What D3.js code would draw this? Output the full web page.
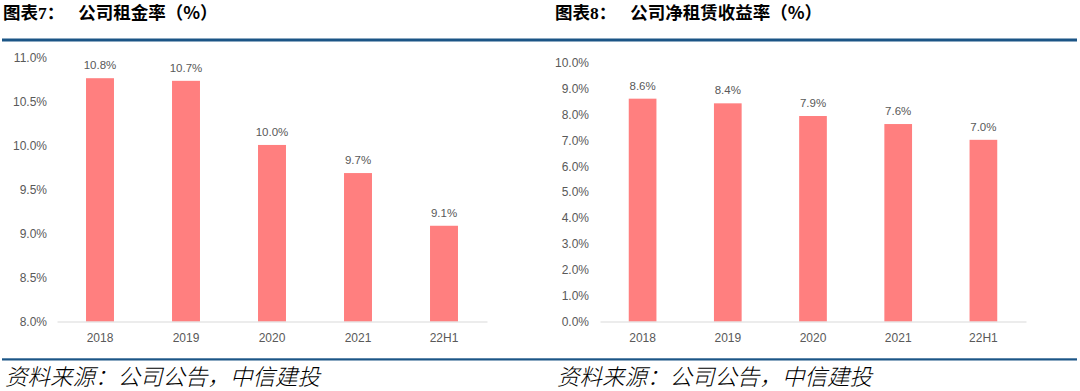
<!DOCTYPE html>
<html>
<head>
<meta charset="utf-8">
<script src="https://cdn.jsdelivr.net/npm/d3@7"></script>
<style>
  body { margin: 0; background: #fff; }
  svg { display: block; }
</style>
</head>
<body>
<script>
// chart data
const years = ["2018", "2019", "2020", "2021", "22H1"];
const rentRate = [10.77, 10.74, 10.01, 9.69, 9.09];
const netYield = [8.61, 8.43, 7.94, 7.63, 7.02];
const rentTicks = [8.0, 8.5, 9.0, 9.5, 10.0, 10.5, 11.0];
const yieldTicks = [0, 1, 2, 3, 4, 5, 6, 7, 8, 9, 10];
const sourceText = "资料来源：公司公告，中信建投";

const W = 1080, H = 391;
const barColor = "#ff7f7f";
const textGray = "#595959";
const ruleBlue = "#1b5586";

let svg = d3.select("body").append("svg")
    .attr("width", W)
    .attr("height", H);

// blue rules across the page
svg.append("rect").attr("x", 2).attr("y", 38.5).attr("width", 1075).attr("height", 3).attr("fill", ruleBlue);
svg.append("rect").attr("x", 2).attr("y", 358.3).attr("width", 1075).attr("height", 2.2).attr("fill", ruleBlue);

let drawPanel = function (o) {
    // title
    let t = svg.append("text")
        .attr("x", o.titleX)
        .attr("y", 19)
        .attr("font-family", "'Noto Sans CJK SC', sans-serif")
        .attr("font-weight", "bold")
        .attr("font-size", 17.5)
        .attr("fill", "#000");
    t.append("tspan").text("图表");
    t.append("tspan").attr("font-family", "'Liberation Serif', serif").text(o.num);
    t.append("tspan").text("：");
    t.append("tspan").attr("dx", 14).text(o.title);

    // source
    svg.append("text")
        .attr("x", o.srcX)
        .attr("y", 385)
        .attr("font-family", "'Noto Sans CJK SC', sans-serif")
        .attr("font-style", "italic")
        .attr("font-weight", 300)
        .attr("font-size", 22.5)
        .attr("fill", "#000")
        .text(sourceText);

    let x = d3.scaleBand()
        .domain(years)
        .range([o.x0, o.x1])
        .paddingInner(0.675)
        .paddingOuter(0.3375);
    let y = d3.scaleLinear()
        .domain(o.domain)
        .range([321.5, o.yTop]);

    let g = svg.append("g");

    // y axis labels
    let ya = g.append("g")
        .attr("transform", "translate(" + o.x0 + ",0)")
        .call(d3.axisLeft(y).tickValues(o.ticks).tickSize(0).tickPadding(o.yPad)
            .tickFormat(function (d) { return d3.format(".1f")(d) + "%"; }));
    ya.select(".domain").remove();
    ya.selectAll("text")
        .attr("font-family", "'Liberation Sans', Arial, sans-serif")
        .attr("font-size", 12)
        .attr("fill", textGray);

    // bars
    g.selectAll(".bar")
        .data(o.values)
        .enter().append("rect")
        .attr("class", "bar")
        .attr("x", function (d, i) { return x(years[i]); })
        .attr("width", x.bandwidth())
        .attr("y", function (d) { return y(d); })
        .attr("height", function (d) { return y(o.domain[0]) - y(d); })
        .attr("fill", barColor);

    // value labels
    g.selectAll(".lbl")
        .data(o.values)
        .enter().append("text")
        .attr("class", "lbl")
        .attr("x", function (d, i) { return x(years[i]) + x.bandwidth() / 2; })
        .attr("y", function (d) { return y(d) - 9; })
        .attr("text-anchor", "middle")
        .attr("font-family", "'Liberation Sans', Arial, sans-serif")
        .attr("font-size", 11.5)
        .attr("fill", textGray)
        .text(function (d) { return d3.format(".1f")(d) + "%"; });

    // x axis
    let xa = g.append("g")
        .attr("transform", "translate(0,321.5)")
        .call(d3.axisBottom(x).tickSize(0).tickSizeOuter(0).tickPadding(11.5));
    xa.select(".domain").attr("stroke", "#d9d9d9").attr("stroke-width", 1);
    xa.selectAll("text")
        .attr("font-family", "'Liberation Sans', Arial, sans-serif")
        .attr("font-size", 12)
        .attr("fill", textGray);
};

drawPanel({
    num: "7", title: "公司租金率（%）", titleX: 3, srcX: 5,
    values: rentRate, ticks: rentTicks, domain: [8, 11],
    x0: 57, x1: 487, yTop: 58, yPad: 10
});

drawPanel({
    num: "8", title: "公司净租赁收益率（%）", titleX: 555, srcX: 557,
    values: netYield, ticks: yieldTicks, domain: [0, 10],
    x0: 600, x1: 1026, yTop: 62.7, yPad: 11
});
</script>
</body>
</html>
